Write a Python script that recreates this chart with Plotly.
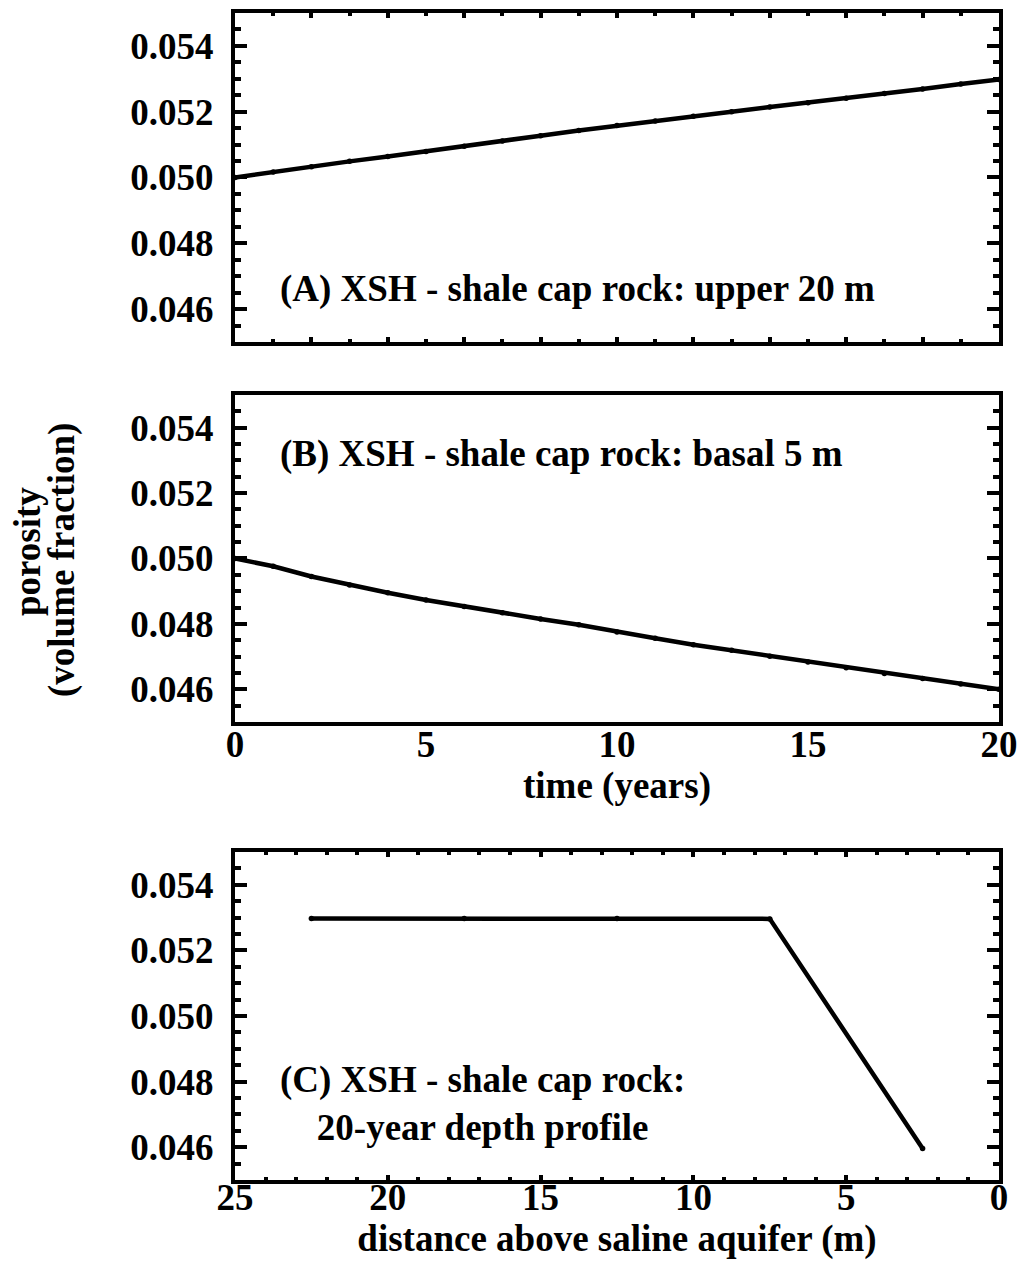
import plotly.graph_objects as go

# Porosity evolution of the XSH shale cap rock
years = list(range(0, 21))
porosity_upper20m = [0.05000, 0.05017, 0.05033, 0.05049, 0.05064, 0.05079, 0.05095,
                     0.05111, 0.05127, 0.05143, 0.05158, 0.05172, 0.05186, 0.05200,
                     0.05214, 0.05227, 0.05241, 0.05255, 0.05269, 0.05284, 0.05298]
porosity_basal5m = [0.05000, 0.04976, 0.04945, 0.04919, 0.04895, 0.04873, 0.04853,
                    0.04834, 0.04815, 0.04797, 0.04775, 0.04756, 0.04736, 0.04719,
                    0.04701, 0.04683, 0.04666, 0.04648, 0.04633, 0.04616, 0.04600]

# 20-year depth profile
distance_m = [22.5, 17.5, 12.5, 7.5, 2.5]
porosity_profile = [0.05297, 0.05297, 0.05297, 0.05296, 0.04596]

y_ticks = [0.046, 0.048, 0.050, 0.052, 0.054]
y_tick_text = ["0.046", "0.048", "0.050", "0.052", "0.054"]
time_ticks = [0, 5, 10, 15, 20]
dist_ticks = [25, 20, 15, 10, 5, 0]

W, H = 1019, 1282
ML, MR, MT, MB = 235, 20, 13, 102

FONT = "Liberation Serif"
TICK_FONT = dict(family=FONT, size=37, color="black", weight="bold")
TITLE_FONT = dict(family=FONT, size=37, color="black", weight="bold")

line_style = dict(color="black", width=4.5)
marker_style = dict(color="black", size=5.5)

fig = go.Figure()
fig.add_trace(go.Scatter(x=years, y=porosity_upper20m, mode="lines+markers",
                         line=line_style, marker=marker_style,
                         xaxis="x", yaxis="y", showlegend=False))
fig.add_trace(go.Scatter(x=years, y=porosity_basal5m, mode="lines+markers",
                         line=line_style, marker=marker_style,
                         xaxis="x2", yaxis="y2", showlegend=False))
fig.add_trace(go.Scatter(x=distance_m, y=porosity_profile, mode="lines+markers",
                         line=line_style, marker=marker_style,
                         xaxis="x3", yaxis="y3", showlegend=False))

frame = dict(showline=True, linecolor="black", linewidth=4, mirror="allticks",
             showgrid=False, zeroline=False, automargin=False)

y_common = dict(frame, range=[0.045, 0.055], tickmode="array", tickvals=y_ticks,
                ticktext=y_tick_text, ticks="inside", ticklen=12, tickwidth=4,
                tickcolor="black", tickfont=TICK_FONT, ticklabelstandoff=10,
                minor=dict(tickmode="linear", tick0=0.045, dtick=0.0005,
                           ticks="inside", ticklen=6, tickwidth=4, tickcolor="black"))

# ticks for the time axes: major every 2 years, minor every year
x_time_ticks = dict(frame, range=[0, 20], tickmode="linear", tick0=0, dtick=2,
                    ticks="inside", ticklen=5, tickwidth=4, tickcolor="black",
                    showticklabels=False,
                    minor=dict(tickmode="linear", tick0=0, dtick=1, ticks="inside",
                               ticklen=3, tickwidth=4, tickcolor="black"))

dom_a = [0.7181, 1.0]
dom_b = [0.3925, 0.6727]
dom_c = [0.0, 0.2811]

fig.update_layout(
    width=W, height=H,
    margin=dict(l=ML, r=MR, t=MT, b=MB, autoexpand=False),
    paper_bgcolor="white", plot_bgcolor="white",
    xaxis=dict(x_time_ticks, domain=[0, 1], anchor="y"),
    yaxis=dict(y_common, domain=dom_a, anchor="x"),
    xaxis2=dict(frame, domain=[0, 1], anchor="y2", range=[0, 20],
                tickmode="array", tickvals=time_ticks, ticks="",
                tickfont=TICK_FONT, ticklabelstandoff=-13, ticklabeloverflow="allow",
                title=dict(text="time (years)", font=TITLE_FONT, standoff=0)),
    yaxis2=dict(y_common, domain=dom_b, anchor="x2"),
    xaxis4=dict(x_time_ticks, overlaying="x2", anchor="y2"),
    xaxis3=dict(frame, domain=[0, 1], anchor="y3", range=[25, 0],
                tickmode="array", tickvals=dist_ticks, ticks="inside", ticklen=5,
                tickwidth=4, tickcolor="black", tickfont=TICK_FONT,
                ticklabelstandoff=-18, ticklabeloverflow="allow",
                minor=dict(tickmode="linear", tick0=0, dtick=1, ticks="inside",
                           ticklen=3, tickwidth=4, tickcolor="black"),
                title=dict(text="distance above saline aquifer (m)",
                           font=TITLE_FONT, standoff=0)),
    yaxis3=dict(y_common, domain=dom_c, anchor="x3"),
    font=dict(family=FONT, color="black"),
)

# shared y-axis title, two rotated lines left of the middle panel
plot_w = W - ML - MR
plot_h = H - MT - MB
for text, px_x, px_y in [("porosity", 27, 552), ("(volume fraction)", 62, 560)]:
    fig.add_annotation(text=text, xref="paper", yref="paper",
                       x=(px_x - ML) / plot_w, y=(H - MB - px_y) / plot_h,
                       xanchor="center", yanchor="middle", textangle=-90,
                       showarrow=False, font=TITLE_FONT)

ann_font = dict(family=FONT, size=37, color="black", weight="bold")
fig.add_annotation(text="(A) XSH - shale cap rock: upper 20 m",
                   xref="x", yref="y", x=1.12, y=0.04662, xanchor="left",
                   yanchor="middle", showarrow=False, font=ann_font)
fig.add_annotation(text="(B) XSH - shale cap rock: basal 5 m",
                   xref="x2", yref="y2", x=1.12, y=0.05320, xanchor="left",
                   yanchor="middle", showarrow=False, font=ann_font)
fig.add_annotation(text="(C) XSH - shale cap rock:<br>20-year depth profile",
                   xref="x3", yref="y3", x=23.6, y=0.04732, xanchor="left",
                   yanchor="middle", showarrow=False, font=ann_font, align="center")

fig.write_html("out.html")
